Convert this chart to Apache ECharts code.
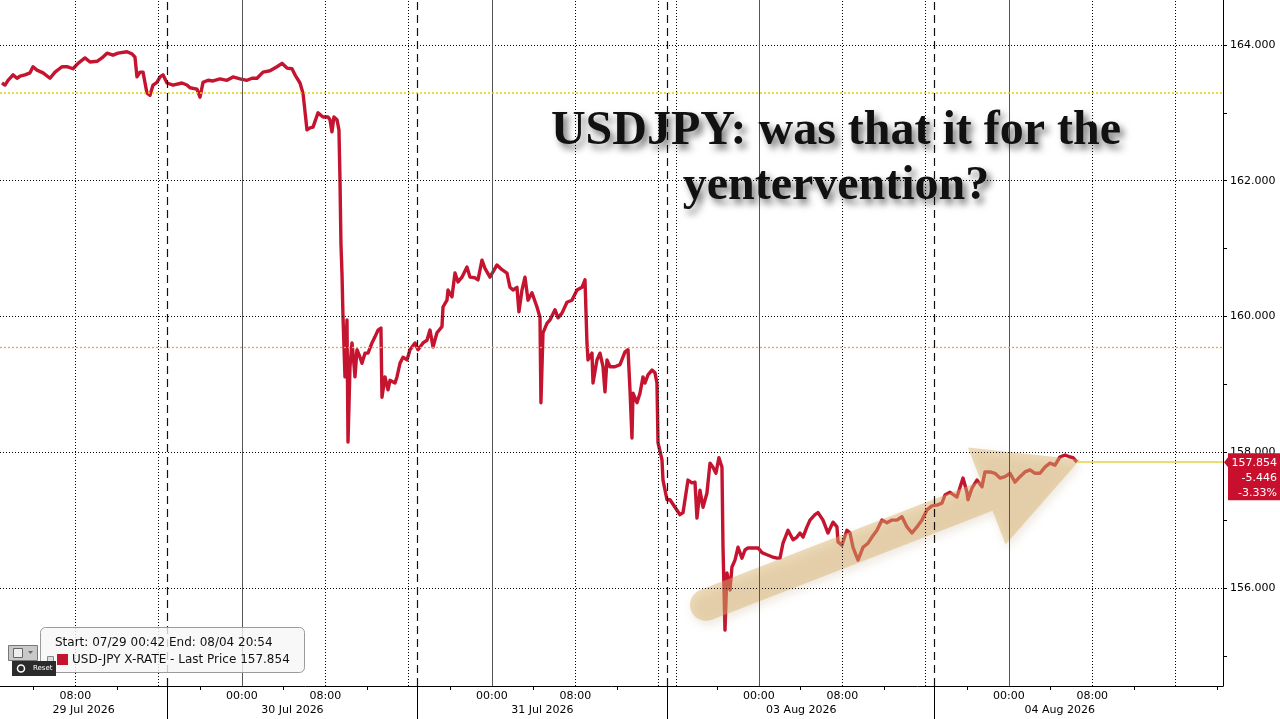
<!DOCTYPE html>
<html><head><meta charset="utf-8">
<script src="https://cdn.jsdelivr.net/npm/echarts@6/dist/echarts.min.js"></script>
<style>html,body{margin:0;padding:0;background:#fff;}#c{width:1280px;height:719px;}</style>
</head><body><div id="c"></div>
<script>
// axis hours since 29 Jul 00:00 on the session axis (weekend removed)
const hours = [0.96,1.25,1.54,2.02,2.40,2.69,3.17,3.65,3.94,4.32,4.90,5.57,6.05,6.72,7.20,7.78,8.26,8.93,9.41,10.08,10.56,11.04,11.62,12.10,12.96,13.44,13.73,13.92,14.21,14.50,14.88,15.17,15.46,15.84,16.13,16.42,16.80,17.38,18.24,18.72,19.01,19.68,19.97,20.26,20.74,21.22,21.89,22.56,23.14,23.81,24.48,24.96,25.44,26.02,26.69,27.36,27.84,28.32,28.80,29.09,29.57,29.86,30.24,30.53,30.82,31.30,31.49,31.78,32.26,32.45,32.64,32.83,33.12,33.31,33.41,33.50,33.60,33.70,33.89,34.08,34.18,34.37,34.56,34.66,34.85,35.04,35.33,35.52,35.81,36.10,36.48,36.77,37.06,37.34,37.44,37.73,38.02,38.21,38.69,38.88,39.17,39.46,39.84,40.13,40.61,40.90,41.38,41.76,42.05,42.34,42.72,43.20,43.30,43.68,43.78,44.16,44.45,44.74,45.12,45.60,45.89,46.37,46.66,47.04,47.33,47.81,48.48,48.96,49.44,49.73,50.02,50.40,50.59,50.88,51.17,51.46,51.84,52.32,52.61,52.70,52.90,53.28,53.57,54.05,54.34,54.72,55.20,55.68,56.16,56.64,56.93,57.12,57.22,57.60,57.70,58.08,58.37,58.66,58.85,59.04,59.33,59.81,60.29,60.77,61.06,61.25,61.44,61.54,61.92,62.21,62.50,62.69,62.98,63.36,63.65,63.84,63.94,64.32,64.42,64.80,65.09,65.57,66.05,66.34,66.82,67.20,67.49,67.68,67.97,68.26,68.64,68.93,69.22,69.50,69.79,70.08,70.18,70.37,70.56,70.85,71.04,71.33,71.62,72.00,72.29,72.58,73.06,73.54,73.92,74.40,74.88,75.36,75.65,75.94,76.42,76.90,77.28,77.57,77.86,78.24,78.53,79.01,79.30,79.78,80.26,80.74,81.12,81.22,81.60,82.08,82.37,82.66,83.14,83.62,84.10,84.48,84.96,85.44,85.92,86.40,86.88,87.36,87.84,88.32,88.80,89.28,89.76,90.24,90.72,91.20,91.49,91.97,92.64,93.22,93.60,93.70,94.08,94.56,95.04,95.33,95.81,96.29,96.77,97.25,97.73,98.21,98.69,99.17,99.65,100.13,100.61,101.09,101.57,102.05,102.53,103.01,103.49,103.78,104.16];
const prices = [163.44,163.41,163.48,163.56,163.51,163.54,163.56,163.59,163.68,163.63,163.59,163.51,163.60,163.68,163.68,163.65,163.73,163.81,163.75,163.76,163.81,163.88,163.85,163.88,163.90,163.87,163.82,163.53,163.60,163.60,163.29,163.26,163.41,163.45,163.53,163.56,163.44,163.41,163.44,163.41,163.37,163.35,163.23,163.45,163.48,163.47,163.50,163.48,163.53,163.50,163.48,163.51,163.51,163.60,163.62,163.68,163.73,163.66,163.65,163.56,163.44,163.29,162.75,162.78,162.79,163.00,163.00,162.94,162.94,162.90,162.72,162.94,162.90,162.75,162.01,161.08,160.64,159.99,159.11,159.95,158.15,159.26,159.61,159.46,159.11,159.51,159.40,159.31,159.46,159.46,159.61,159.70,159.80,159.83,158.81,159.11,158.92,159.06,159.02,159.11,159.31,159.40,159.36,159.51,159.61,159.51,159.61,159.65,159.80,159.55,159.76,159.85,160.14,160.24,160.39,160.29,160.64,160.51,160.58,160.73,160.58,160.57,160.54,160.83,160.71,160.58,160.76,160.69,160.64,160.43,160.39,160.43,160.07,160.39,160.58,160.24,160.35,160.14,159.99,158.73,159.76,159.90,159.95,160.10,159.98,160.05,160.21,160.24,160.39,160.43,160.54,159.61,159.36,159.46,159.02,159.36,159.46,159.26,158.89,159.36,159.26,159.26,159.29,159.48,159.51,158.92,158.21,158.87,158.73,158.87,159.11,159.02,159.14,159.21,159.17,159.02,158.14,157.89,157.59,157.30,157.30,157.19,157.08,157.11,157.59,157.55,157.56,157.03,157.44,157.19,157.40,157.84,157.78,157.69,157.92,157.78,156.60,155.38,156.22,155.97,156.31,156.41,156.60,156.44,156.56,156.59,156.59,156.59,156.52,156.49,156.46,156.44,156.44,156.66,156.85,156.71,156.75,156.81,156.75,156.90,157.00,157.08,157.11,157.00,156.81,156.97,156.90,156.68,156.63,156.85,156.81,156.60,156.41,156.60,156.66,156.75,156.85,157.00,156.96,157.00,157.00,157.05,156.90,156.81,156.90,157.00,157.15,157.21,157.22,157.25,157.37,157.41,157.34,157.62,157.41,157.30,157.47,157.59,157.49,157.71,157.71,157.69,157.62,157.64,157.69,157.56,157.64,157.71,157.74,157.69,157.69,157.78,157.84,157.81,157.93,157.96,157.93,157.92,157.854];

const xTickHours = [8,24,32,48,56,73.63,81.63,97.63,105.63];
const xTickLabels = ['08:00','00:00','08:00','00:00','08:00','00:00','08:00','00:00','08:00'];
const dateHours = [8.8,28.85,52.85,77.7,102.5];
const dateLabels = ['29 Jul 2026','30 Jul 2026','31 Jul 2026','03 Aug 2026','04 Aug 2026'];
const minorTickHours = [4,12,20,28,36,44,52,60,69.63,77.63,85.63,93.63,101.63,109.63,117.63];
const sessionBreakHours = [16.85,40.85,64.85,90.48];
const midnightHours = [24,48,73.63,97.63];
const eightHourHours = [8,16,32,40,56,64,65.66,81.63,89.63,105.63,113.63];
const yTickValues = [156,158,160,162,164];
const yMinorValues = [155,156,157,158,159,160,161,162,163,164];
const startPrice = 163.30;
const avgPrice = 159.54;
const lastPrice = 157.854;
const netChange = -5.446;
const pctChange = -3.33;
const arrowStart = [68.54,155.75];
const arrowTip = [104.45,157.89];
const xMin = 0.77, xMax = 118.18, yMin = 154.556, yMax = 164.663;
const legendTitle = 'Start: 07/29 00:42 End: 08/04 20:54';
const legendSeries = 'USD-JPY X-RATE - Last Price ';
const chartTitle = 'USDJPY: was that it for the\nyentervention?';

const RED = '#C5142F';
const FONT = '"DejaVu Sans", Tahoma, sans-serif';
const seriesData = hours.map((h,i)=>[h, prices[i]]);

function nearestLabel(v, vals, labels){
  let best=0, bd=1e9;
  vals.forEach((x,i)=>{const d=Math.abs(x-v); if(d<bd){bd=d;best=i;}});
  return bd<0.05 ? labels[best] : '';
}

const dotted = {type:[1,2], color:'#000', width:1};
const gridLines = [];
yTickValues.forEach(v=>gridLines.push({yAxis:v, lineStyle:dotted}));
eightHourHours.forEach(v=>gridLines.push({xAxis:v, lineStyle:dotted}));
midnightHours.forEach(v=>gridLines.push({xAxis:v, lineStyle:{type:'solid', color:'#555', width:1}}));
sessionBreakHours.forEach(v=>gridLines.push({xAxis:v, lineStyle:{type:[8,5], color:'#111', width:1.2}}));
gridLines.push({yAxis:startPrice, lineStyle:{type:[2,2], color:'#E3D000', width:1.5}});
gridLines.push({yAxis:avgPrice, lineStyle:{type:[2,2], color:'#F0A448', width:1.3}});
gridLines.push([{coord:[hours[hours.length-1], lastPrice]},{coord:[xMax, lastPrice]}]);
gridLines[gridLines.length-1][0].lineStyle = {type:'solid', color:'#E6D245', width:1.5};

const chart = echarts.init(document.getElementById('c'), null, {renderer:'canvas'});
chart.setOption({
  animation:false,
  backgroundColor:'#fff',
  grid:{left:0, right:57, top:0, bottom:33, containLabel:false},
  xAxis:[{
    type:'value', min:xMin, max:xMax, position:'bottom',
    axisLine:{show:true, lineStyle:{color:'#000', width:1}},
    axisTick:{show:true, customValues:minorTickHours, length:4, lineStyle:{color:'#000'}},
    axisLabel:{customValues:xTickHours, margin:5, color:'#000', fontSize:11, fontFamily:FONT,
      formatter:v=>nearestLabel(v, xTickHours, xTickLabels)},
    splitLine:{show:false}
  },{
    type:'value', min:xMin, max:xMax, position:'bottom', offset:0,
    axisLine:{show:false},
    axisTick:{show:true, customValues:sessionBreakHours, length:33, lineStyle:{color:'#000', width:1}},
    axisLabel:{customValues:dateHours, margin:19, color:'#000', fontSize:11, fontFamily:FONT,
      formatter:v=>nearestLabel(v, dateHours, dateLabels)},
    splitLine:{show:false}
  }],
  yAxis:{
    type:'value', min:yMin, max:yMax, position:'right',
    axisLine:{show:true, lineStyle:{color:'#000', width:1}},
    axisTick:{show:true, customValues:yMinorValues, length:4, lineStyle:{color:'#000'}},
    axisLabel:{customValues:yTickValues, margin:7, color:'#000', fontSize:11, fontFamily:FONT,
      formatter:v=>v.toFixed(3)},
    splitLine:{show:false}
  },
  series:[{
    type:'line', name:'grid', data:[], z:1, silent:true,
    markLine:{silent:true, symbol:['none','none'], label:{show:false}, animation:false, data:gridLines}
  },{
    type:'line', name:'USD-JPY', data:seriesData, z:3, showSymbol:false, symbol:'none',
    lineStyle:{color:RED, width:3.4, join:'round'}, itemStyle:{color:RED}, silent:true
  },{
    type:'custom', name:'arrow', z:4, silent:true,
    data:[[arrowStart[0],arrowStart[1],arrowTip[0],arrowTip[1]]],
    encode:{x:[0,2], y:[1,3]},
    renderItem:function(params, api){
      const S = api.coord([api.value(0), api.value(1)]);
      const T = api.coord([api.value(2), api.value(3)]);
      const dx=T[0]-S[0], dy=T[1]-S[1], len=Math.hypot(dx,dy);
      const ux=dx/len, uy=dy/len, nx=-uy, ny=ux;
      const w=16, L=100, H=52;
      const B=[T[0]-ux*L, T[1]-uy*L];
      const pts=[[B[0]+nx*w,B[1]+ny*w],[B[0]+nx*H,B[1]+ny*H],[T[0],T[1]],[B[0]-nx*H,B[1]-ny*H],[B[0]-nx*w,B[1]-ny*w]];
      const a0=Math.atan2(-ny,-nx);
      for(let k=0;k<=12;k++){
        const a=a0 - Math.PI*k/12;
        pts.push([S[0]+w*Math.cos(a), S[1]+w*Math.sin(a)]);
      }
      return {type:'polygon', shape:{points:pts},
        style:{fill:'rgba(216,175,105,0.45)', shadowBlur:10, shadowColor:'rgba(160,125,80,0.4)', shadowOffsetX:2, shadowOffsetY:4}};
    }
  },{
    type:'custom', name:'tag', z:10, silent:true, clip:false,
    data:[[xMax, lastPrice]], encode:{x:0, y:1},
    renderItem:function(params, api){
      const p = api.coord([api.value(0), api.value(1)]);
      const x=p[0], y=p[1];
      const f = '11px ' + FONT;
      return {type:'group', children:[
        {type:'polygon', shape:{points:[[x+1,y],[x+5,y-5],[x+5,y-9],[x+57,y-9],[x+57,y+38],[x+5,y+38],[x+5,y+5]]}, style:{fill:'#C8102E'}},
        {type:'text', x:x+54, y:y+0.5, style:{text:lastPrice.toFixed(3), fill:'#fff', font:f, align:'right', verticalAlign:'middle'}},
        {type:'text', x:x+54, y:y+15.5, style:{text:netChange.toFixed(3), fill:'#fff', font:f, align:'right', verticalAlign:'middle'}},
        {type:'text', x:x+54, y:y+31, style:{text:pctChange.toFixed(2)+'%', fill:'#fff', font:f, align:'right', verticalAlign:'middle'}}
      ]};
    }
  }],
  graphic:[
    {type:'text', x:836, y:104, z:100, silent:true,
      style:{text:chartTitle, font:'bold 48px "Liberation Serif", "Times New Roman", serif', fill:'#111',
        align:'center', verticalAlign:'top', lineHeight:55,
        textShadowBlur:7, textShadowColor:'rgba(0,0,0,0.55)', textShadowOffsetX:4, textShadowOffsetY:5}},
    {type:'rect', z:100, silent:true, shape:{x:40.5,y:627.5,width:264,height:45,r:5},
      style:{fill:'rgba(246,246,246,0.8)', stroke:'#9a9a9a', lineWidth:1}},
    {type:'text', x:55, y:643, z:101, silent:true,
      style:{text:legendTitle, font:'12px '+FONT, fill:'#111', verticalAlign:'middle'}},
    {type:'rect', z:101, silent:true, shape:{x:57,y:654,width:11,height:11}, style:{fill:RED}},
    {type:'rect', z:101, silent:true, shape:{x:47.5,y:656.5,width:6,height:6}, style:{fill:'#ddd', stroke:'#888', lineWidth:1}},
    {type:'text', x:72, y:660, z:101, silent:true,
      style:{text:legendSeries + lastPrice.toFixed(3), font:'12px '+FONT, fill:'#111', verticalAlign:'middle'}},
    {type:'rect', z:101, silent:true, shape:{x:8.5,y:645.5,width:29,height:15}, style:{fill:'#c9c9c9', stroke:'#777', lineWidth:1}},
    {type:'rect', z:102, silent:true, shape:{x:13.5,y:648.5,width:9,height:9}, style:{fill:'#eee', stroke:'#666', lineWidth:1}},
    {type:'polygon', z:102, silent:true, shape:{points:[[28,651],[33,651],[30.5,654]]}, style:{fill:'#666'}},
    {type:'rect', z:101, silent:true, shape:{x:12,y:661,width:44,height:15}, style:{fill:'#2b2b2b'}},
    {type:'circle', z:102, silent:true, shape:{cx:21,cy:668.5,r:3.5}, style:{fill:'none', stroke:'#fff', lineWidth:1.5}},
    {type:'text', x:33, y:668.5, z:102, silent:true, style:{text:'Reset', font:'7px '+FONT, fill:'#fff', verticalAlign:'middle'}}
  ]
});
</script>
</body></html>
